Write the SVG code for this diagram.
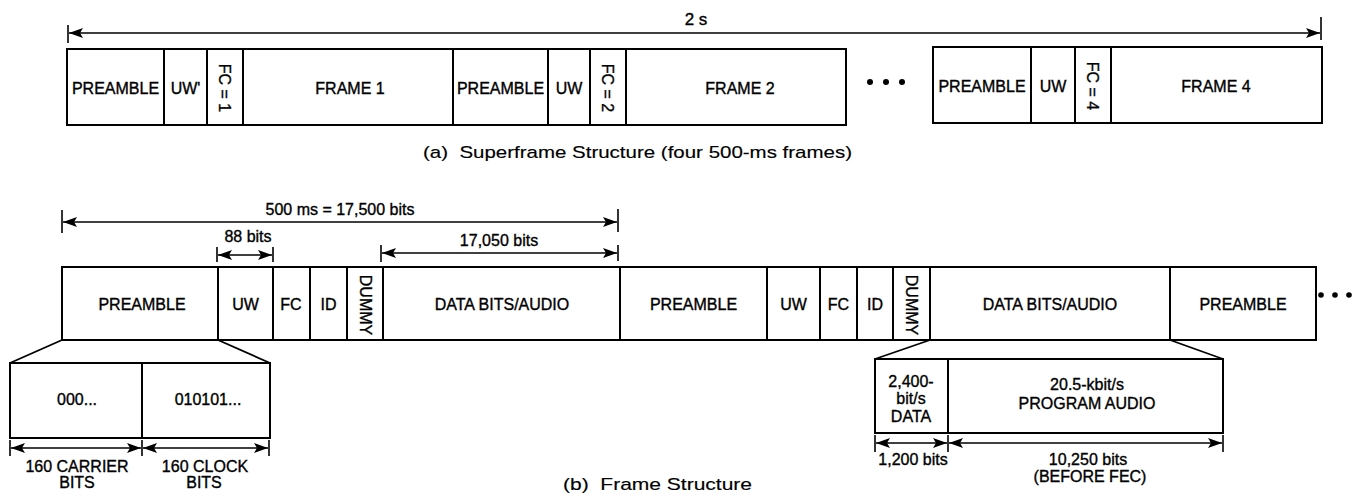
<svg xmlns="http://www.w3.org/2000/svg" width="1360" height="500" viewBox="0 0 1360 500">
<defs>
<style>
.box{fill:#fff;stroke:#000;stroke-width:2}
.div{stroke:#000;stroke-width:2}
.lbl{font-family:"Liberation Sans",Arial,sans-serif;font-size:16px;text-anchor:middle;fill:#000;stroke:#000;stroke-width:0.35}
.cap{font-family:"Liberation Sans",Arial,sans-serif;font-size:17px;fill:#000;stroke:#000;stroke-width:0.15}
.dim{stroke:#000;stroke-width:1.3;fill:none}
.tick{stroke:#000;stroke-width:1.6}
.fan{stroke:#000;stroke-width:1.8;fill:none}
.dot{fill:#000}
</style>
<marker id="ah" viewBox="0 0 14 10" refX="14" refY="5" markerWidth="14" markerHeight="10" markerUnits="userSpaceOnUse" orient="auto-start-reverse">
<path d="M0,0 L14,5 L0,10 L3,5 z" fill="#000"/>
</marker>
</defs>
<rect width="1360" height="500" fill="#fff"/>

<!-- (a) Superframe -->
<g id="superframe-1-2">
<rect class="box" x="67" y="49" width="779" height="76"/>
<line class="div" x1="164" y1="49" x2="164" y2="125"/>
<line class="div" x1="207" y1="49" x2="207" y2="125"/>
<line class="div" x1="243" y1="49" x2="243" y2="125"/>
<line class="div" x1="453" y1="49" x2="453" y2="125"/>
<line class="div" x1="548" y1="49" x2="548" y2="125"/>
<line class="div" x1="590" y1="49" x2="590" y2="125"/>
<line class="div" x1="626" y1="49" x2="626" y2="125"/>
<text class="lbl" x="115.5" y="94">PREAMBLE</text>
<text class="lbl" x="185.5" y="94">UW'</text>
<text class="lbl" transform="translate(225,88) rotate(90)" y="6">FC = 1</text>
<text class="lbl" x="350" y="94">FRAME 1</text>
<text class="lbl" x="500.5" y="94">PREAMBLE</text>
<text class="lbl" x="569" y="94">UW</text>
<text class="lbl" transform="translate(608,88) rotate(90)" y="6">FC = 2</text>
<text class="lbl" x="740" y="94">FRAME 2</text>
</g>
<g id="superframe-ellipsis">
<circle class="dot" cx="870" cy="82" r="3"/>
<circle class="dot" cx="886" cy="82" r="3"/>
<circle class="dot" cx="902" cy="82" r="3"/>
</g>
<g id="superframe-4">
<rect class="box" x="933" y="47" width="389" height="76"/>
<line class="div" x1="1031" y1="47" x2="1031" y2="123"/>
<line class="div" x1="1075" y1="47" x2="1075" y2="123"/>
<line class="div" x1="1111" y1="47" x2="1111" y2="123"/>
<text class="lbl" x="982" y="92">PREAMBLE</text>
<text class="lbl" x="1053" y="92">UW</text>
<text class="lbl" transform="translate(1093,86) rotate(90)" y="6">FC = 4</text>
<text class="lbl" x="1216" y="92">FRAME 4</text>
</g>
<text class="lbl" x="696" y="25" style="font-size:17px">2 s</text>
<text class="cap" x="423" y="158" textLength="429" lengthAdjust="spacingAndGlyphs" xml:space="preserve">(a)  Superframe Structure (four 500-ms frames)</text>

<!-- (b) Frame -->
<g id="frame-row">
<rect class="box" x="62" y="267" width="1254" height="73"/>
<line class="div" x1="218" y1="267" x2="218" y2="340"/>
<line class="div" x1="273" y1="267" x2="273" y2="340"/>
<line class="div" x1="310" y1="267" x2="310" y2="340"/>
<line class="div" x1="347" y1="267" x2="347" y2="340"/>
<line class="div" x1="383" y1="267" x2="383" y2="340"/>
<line class="div" x1="620" y1="267" x2="620" y2="340"/>
<line class="div" x1="767" y1="267" x2="767" y2="340"/>
<line class="div" x1="820" y1="267" x2="820" y2="340"/>
<line class="div" x1="857" y1="267" x2="857" y2="340"/>
<line class="div" x1="893" y1="267" x2="893" y2="340"/>
<line class="div" x1="930" y1="267" x2="930" y2="340"/>
<line class="div" x1="1170" y1="267" x2="1170" y2="340"/>
<text class="lbl" x="142" y="310">PREAMBLE</text>
<text class="lbl" x="245.5" y="310">UW</text>
<text class="lbl" x="291" y="310">FC</text>
<text class="lbl" x="328.5" y="310">ID</text>
<text class="lbl" transform="translate(366,305) rotate(90)" y="6">DUMMY</text>
<text class="lbl" x="502" y="310">DATA BITS/AUDIO</text>
<text class="lbl" x="693.5" y="310">PREAMBLE</text>
<text class="lbl" x="793.5" y="310">UW</text>
<text class="lbl" x="838.5" y="310">FC</text>
<text class="lbl" x="875" y="310">ID</text>
<text class="lbl" transform="translate(912,305) rotate(90)" y="6">DUMMY</text>
<text class="lbl" x="1050" y="310">DATA BITS/AUDIO</text>
<text class="lbl" x="1243" y="310">PREAMBLE</text>
</g>
<g id="frame-ellipsis">
<circle class="dot" cx="1321" cy="295" r="2.8"/>
<circle class="dot" cx="1335" cy="295" r="2.8"/>
<circle class="dot" cx="1349" cy="295" r="2.8"/>
</g>
<g id="preamble-detail">
<rect class="box" x="10" y="363" width="260" height="75"/>
<line class="div" x1="142" y1="363" x2="142" y2="438"/>
<text class="lbl" x="77" y="405">000...</text>
<text class="lbl" x="208" y="405">010101...</text>
<text class="lbl" x="77" y="472">160 CARRIER</text>
<text class="lbl" x="77" y="488">BITS</text>
<text class="lbl" x="205" y="472">160 CLOCK</text>
<text class="lbl" x="204" y="488">BITS</text>
</g>
<g id="data-detail">
<rect class="box" x="875" y="359" width="348" height="74"/>
<line class="div" x1="948" y1="359" x2="948" y2="433"/>
<text class="lbl" x="911" y="387">2,400-</text>
<text class="lbl" x="911" y="404">bit/s</text>
<text class="lbl" x="911" y="422">DATA</text>
<text class="lbl" x="1087" y="390">20.5-kbit/s</text>
<text class="lbl" x="1087" y="409">PROGRAM AUDIO</text>
<text class="lbl" x="913" y="465">1,200 bits</text>
<text class="lbl" x="1088" y="465">10,250 bits</text>
<text class="lbl" x="1090" y="482">(BEFORE FEC)</text>
</g>
<text class="lbl" x="340" y="215">500 ms = 17,500 bits</text>
<text class="lbl" x="248" y="242">88 bits</text>
<text class="lbl" x="499" y="246">17,050 bits</text>
<text class="cap" x="563" y="490" textLength="189" lengthAdjust="spacingAndGlyphs" xml:space="preserve">(b)  Frame Structure</text>

<g id="connectors">
<!-- 2 s -->
<line class="tick" x1="68" y1="25" x2="68" y2="43"/>
<line class="tick" x1="1321" y1="17" x2="1321" y2="40"/>
<line class="dim" x1="69" y1="33" x2="1320" y2="33" marker-start="url(#ah)" marker-end="url(#ah)"/>
<!-- 500 ms -->
<line class="tick" x1="62" y1="210" x2="62" y2="233"/>
<line class="tick" x1="618" y1="209" x2="618" y2="232"/>
<line class="dim" x1="63" y1="222" x2="617" y2="222" marker-start="url(#ah)" marker-end="url(#ah)"/>
<!-- 88 bits -->
<line class="tick" x1="217" y1="247" x2="217" y2="262"/>
<line class="tick" x1="273" y1="247" x2="273" y2="262"/>
<line class="dim" x1="218" y1="255" x2="272" y2="255" marker-start="url(#ah)" marker-end="url(#ah)"/>
<!-- 17,050 bits -->
<line class="tick" x1="381" y1="245" x2="381" y2="262"/>
<line class="tick" x1="618" y1="245" x2="618" y2="261"/>
<line class="dim" x1="382" y1="253" x2="617" y2="253" marker-start="url(#ah)" marker-end="url(#ah)"/>
<!-- preamble expansion -->
<line class="fan" x1="62" y1="340" x2="10" y2="363"/>
<line class="fan" x1="218" y1="340" x2="270" y2="363"/>
<line class="tick" x1="10" y1="440" x2="10" y2="456"/>
<line class="tick" x1="142" y1="440" x2="142" y2="456"/>
<line class="tick" x1="269" y1="440" x2="269" y2="456"/>
<line class="dim" x1="11" y1="448" x2="141" y2="448" marker-start="url(#ah)" marker-end="url(#ah)"/>
<line class="dim" x1="143" y1="448" x2="268" y2="448" marker-start="url(#ah)" marker-end="url(#ah)"/>
<!-- data expansion -->
<line class="fan" x1="930" y1="340" x2="875" y2="359"/>
<line class="fan" x1="1170" y1="340" x2="1223" y2="359"/>
<line class="tick" x1="875" y1="435" x2="875" y2="452"/>
<line class="tick" x1="948" y1="435" x2="948" y2="452"/>
<line class="tick" x1="1223" y1="435" x2="1223" y2="452"/>
<line class="dim" x1="876" y1="443" x2="947" y2="443" marker-start="url(#ah)" marker-end="url(#ah)"/>
<line class="dim" x1="949" y1="443" x2="1222" y2="443" marker-start="url(#ah)" marker-end="url(#ah)"/>
</g>
</svg>
